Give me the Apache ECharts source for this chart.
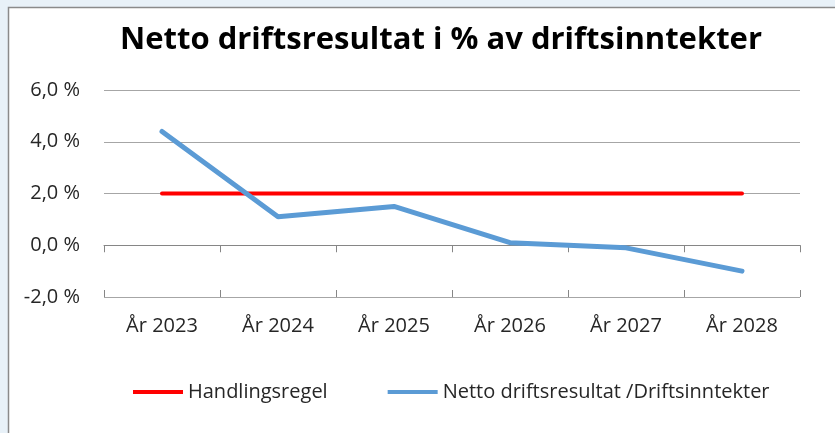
<!DOCTYPE html>
<html>
<head>
<meta charset="utf-8">
<script src="https://cdn.jsdelivr.net/npm/echarts@6/dist/echarts.min.js"></script>
<style>
html,body{margin:0;padding:0;background:#e8f1f8;}
#chart{width:835px;height:433px;}
</style>
</head>
<body>
<div id="chart"></div>
<script>
const titleText = 'Netto driftsresultat i % av driftsinntekter';
const categories = ['År 2023', 'År 2024', 'År 2025', 'År 2026', 'År 2027', 'År 2028'];
const handlingsregel = [2, 2, 2, 2, 2, 2];
const netto = [4.4, 1.1, 1.5, 0.1, -0.1, -1.0];
const yTicks = [-2, 0, 2, 4, 6];
const seriesNames = ['Handlingsregel', 'Netto driftsresultat /Driftsinntekter'];

const FONT = 'Open Sans';
const chart = echarts.init(document.getElementById('chart'));
const baseX = {
  type: 'category', data: categories, boundaryGap: true,
  splitLine: {show: false}
};
chart.setOption({
  backgroundColor: '#e8f1f8',
  animation: false,
  graphic: [{
    type: 'rect', z: -10, silent: true,
    shape: {x: 8.5, y: 7.5, width: 840, height: 440},
    style: {fill: '#ffffff', stroke: '#8a8a8a', lineWidth: 1.5}
  }],
  title: {
    text: titleText, left: 436, top: 20, textAlign: 'center',
    textStyle: {fontFamily: FONT, fontWeight: 'bold', fontSize: 31, color: '#000000'}
  },
  legend: {
    left: 128, top: 377, itemWidth: 50, itemHeight: 4, itemGap: 60,
    icon: 'rect',
    textStyle: {fontFamily: FONT, fontSize: 20, color: '#262626'},
    data: seriesNames
  },
  grid: {left: 104, right: 35, top: 90, bottom: 136},
  xAxis: [
    Object.assign({}, baseX, {
      position: 'bottom',
      axisLine: {show: false, onZero: false},
      axisTick: {show: false},
      axisLabel: {fontFamily: FONT, fontSize: 20, color: '#262626', margin: 19}
    }),
    Object.assign({}, baseX, {
      position: 'bottom',
      axisLine: {show: true, onZero: true, lineStyle: {color: '#868686', width: 1}},
      axisTick: {show: true, inside: false, length: 7, lineStyle: {color: '#868686'}},
      axisLabel: {show: false}
    }),
    Object.assign({}, baseX, {
      position: 'bottom',
      axisLine: {show: false, onZero: true},
      axisTick: {show: true, inside: true, length: 7, lineStyle: {color: '#868686'}},
      axisLabel: {show: false}
    })
  ],
  yAxis: {
    type: 'value', min: -2, max: 6, interval: 2,
    axisLine: {show: false}, axisTick: {show: false},
    splitLine: {lineStyle: {color: '#a6a6a6', width: 1}},
    axisLabel: {
      fontFamily: FONT, fontSize: 20, color: '#262626', margin: 24,
      formatter: v => yTicks.includes(v) ? v.toFixed(1).replace('.', ',') + ' %' : ''
    }
  },
  series: [
    {
      name: seriesNames[0], type: 'line', xAxisIndex: 0, data: handlingsregel,
      symbol: 'none', color: '#ff0000',
      lineStyle: {color: '#ff0000', width: 4, cap: 'round'}, z: 3
    },
    {
      name: seriesNames[1], type: 'line', xAxisIndex: 0, data: netto,
      symbol: 'none', color: '#5b9bd5',
      lineStyle: {color: '#5b9bd5', width: 5, cap: 'round', join: 'round'}, z: 4
    }
  ]
});
</script>
</body>
</html>
